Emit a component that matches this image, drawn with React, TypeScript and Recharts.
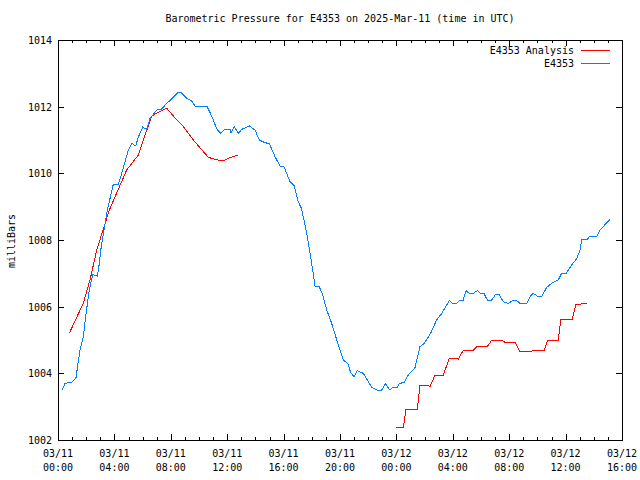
import React from 'react';
import { LineChart, Line, XAxis, YAxis, ReferenceArea, Legend } from 'recharts';

// ---------- data ----------
const chartTitle = 'Barometric Pressure for E4353 on 2025-Mar-11 (time in UTC)';
const yAxisTitle = 'milliBars';
const seriesNames = ['E4353 Analysis', 'E4353'];
const seriesColors = ['#ff0000', '#0080ff'];

const xTickHours = [0, 4, 8, 12, 16, 20, 24, 28, 32, 36, 40];
const xTickDates = ['03/11', '03/11', '03/11', '03/11', '03/11', '03/11', '03/12', '03/12', '03/12', '03/12', '03/12'];
const xTickTimes = ['00:00', '04:00', '08:00', '12:00', '16:00', '20:00', '00:00', '04:00', '08:00', '12:00', '16:00'];
const yTicks = [1002, 1004, 1006, 1008, 1010, 1012, 1014];

// hours since 03/11 00:00 UTC
const stationHours = [
  0.3, 0.5, 0.97, 1.28, 1.4, 1.56, 1.79, 1.99, 2.22, 2.46, 2.79, 2.93, 3.03, 3.5, 3.92, 4.28, 4.52, 4.99,
  5.23, 5.51, 5.7, 6.01, 6.29, 6.52, 7.0, 7.35, 7.71, 7.94, 8.53, 8.7, 9.13, 9.48, 9.72, 10.55, 10.9,
  11.26, 11.54, 11.84, 12.2, 12.27, 12.5, 12.79, 13.03, 13.57, 13.97, 14.28, 14.68, 14.99, 15.39, 15.74,
  16.03, 16.45, 16.76, 17.04, 17.28, 17.64, 17.99, 18.23, 18.53, 18.77, 19.06, 19.41, 19.77, 20.23,
  20.55, 20.76, 20.99, 21.23, 21.65, 21.94, 22.25, 22.6, 22.96, 23.24, 23.5, 23.78, 24.06, 24.2, 24.54,
  24.84, 25.32, 25.67, 25.96, 26.43, 26.86, 27.21, 27.75, 27.99, 28.28, 28.51, 28.74, 28.94, 29.17,
  29.45, 29.74, 29.98, 30.21, 30.45, 30.76, 31.06, 31.3, 31.58, 31.94, 32.3, 32.48, 32.77, 33.24, 33.48,
  33.71, 34.06, 34.3, 34.66, 35.01, 35.48, 35.72, 36.03, 36.26, 36.5, 36.79, 37.02, 37.14, 37.54, 37.68,
  38.21, 38.44, 39.15,
];
const stationPressure = [
  1003.5, 1003.7, 1003.73, 1003.87, 1004.25, 1004.7, 1005.09, 1005.8, 1006.5, 1006.96, 1006.92, 1007.29,
  1007.69, 1008.9, 1009.67, 1009.67, 1010.0, 1010.7, 1010.9, 1010.82, 1011.09, 1011.39, 1011.31, 1011.64,
  1011.9, 1011.93, 1012.1, 1012.18, 1012.43, 1012.43, 1012.25, 1012.17, 1012.02, 1012.02, 1011.72,
  1011.33, 1011.2, 1011.32, 1011.32, 1011.22, 1011.4, 1011.2, 1011.32, 1011.42, 1011.3, 1011.0, 1010.92,
  1010.89, 1010.5, 1010.22, 1010.2, 1009.75, 1009.62, 1009.15, 1008.93, 1008.2, 1007.3, 1006.62, 1006.6,
  1006.35, 1005.9, 1005.5, 1005.0, 1004.4, 1004.3, 1004.02, 1003.9, 1004.08, 1004.0, 1003.8, 1003.58,
  1003.5, 1003.5, 1003.7, 1003.5, 1003.58, 1003.58, 1003.7, 1003.72, 1003.95, 1004.17, 1004.8, 1004.89,
  1005.2, 1005.61, 1005.79, 1006.18, 1006.1, 1006.1, 1006.2, 1006.2, 1006.48, 1006.4, 1006.4, 1006.48,
  1006.4, 1006.4, 1006.2, 1006.2, 1006.38, 1006.36, 1006.15, 1006.1, 1006.2, 1006.2, 1006.1, 1006.1,
  1006.3, 1006.4, 1006.3, 1006.3, 1006.58, 1006.7, 1006.8, 1007.0, 1007.0, 1007.14, 1007.29, 1007.44,
  1007.69, 1008.01, 1008.01, 1008.11, 1008.11, 1008.3, 1008.62,
];

const analysisHours = [
  0.8, 1.79, 2.27, 2.74, 3.64, 4.87, 5.7, 6.29, 6.65, 7.0, 7.71, 8.18, 8.89, 9.6, 10.66, 11.13, 11.68,
  12.2, 12.74, 18.0, 23.97, 24.49, 24.68, 25.48, 25.67, 26.26, 26.38, 26.74, 27.33, 27.75, 28.39, 28.74,
  29.45, 29.74, 30.47, 30.76, 31.47, 31.7, 32.41, 32.72, 33.6, 33.71, 34.5, 34.73, 35.48, 35.67, 36.48,
  36.72, 37.02, 37.21, 37.49,
];
const analysisPressure: (number | null)[] = [
  1005.2, 1006.1, 1006.8, 1007.69, 1008.9, 1010.1, 1010.55, 1011.29, 1011.71, 1011.81, 1011.95, 1011.72,
  1011.4, 1011.0, 1010.48, 1010.42, 1010.37, 1010.47, 1010.55, null, 1002.38, 1002.38, 1002.91, 1002.91,
  1003.63, 1003.63, 1003.6, 1003.95, 1003.95, 1004.45, 1004.43, 1004.69, 1004.69, 1004.82, 1004.82,
  1004.99, 1004.99, 1004.93, 1004.93, 1004.67, 1004.67, 1004.7, 1004.7, 1004.99, 1004.99, 1005.63,
  1005.63, 1006.06, 1006.06, 1006.11, 1006.11,
];

// ---------- layout ----------
const W = 640;
const H = 480;
const MARGIN = { top: 40, right: 18, bottom: 0, left: 0 };
const Y_AXIS_W = 58;
const X_AXIS_H = 40;
const PLOT_TOP = MARGIN.top;
const PLOT_RIGHT = W - MARGIN.right;
const FONT = '"DejaVu Sans Mono", "Liberation Mono", monospace';
const FS = 10;

const stationData = stationHours.map((h, i) => ({ h, p: stationPressure[i] }));
const analysisData = analysisHours.map((h, i) => ({ h, p: analysisPressure[i] }));
const allHourTicks = Array.from({ length: 41 }, (_, i) => i);

const XTick = (props: any) => {
  const { x, y, payload } = props;
  const h = payload.value as number;
  const idx = xTickHours.indexOf(h);
  const major = idx >= 0;
  const len = major ? 6 : 3;
  const xr = Math.round(x) + 0.5;
  return (
    <g>
      <line x1={xr} x2={xr} y1={y} y2={y - len} stroke="#000" shapeRendering="crispEdges" />
      <line x1={xr} x2={xr} y1={PLOT_TOP} y2={PLOT_TOP + len} stroke="#000" shapeRendering="crispEdges" />
      {major && (
        <text x={x} y={y + 17} textAnchor="middle" fontFamily={FONT} fontSize={FS} fill="#000">
          {xTickDates[idx]}
        </text>
      )}
      {major && (
        <text x={x} y={y + 31} textAnchor="middle" fontFamily={FONT} fontSize={FS} fill="#000">
          {xTickTimes[idx]}
        </text>
      )}
    </g>
  );
};

const YTick = (props: any) => {
  const { x, y, payload } = props;
  const yr = Math.round(y) + 0.5;
  return (
    <g>
      <line x1={x} x2={x + 6} y1={yr} y2={yr} stroke="#000" shapeRendering="crispEdges" />
      <line x1={PLOT_RIGHT} x2={PLOT_RIGHT - 6} y1={yr} y2={yr} stroke="#000" shapeRendering="crispEdges" />
      <text x={x - 6} y={y + 4} textAnchor="end" fontFamily={FONT} fontSize={FS} fill="#000">
        {payload.value}
      </text>
    </g>
  );
};

const LegendBox = () => (
  <svg width={W} height={30} style={{ display: 'block' }}>
    {seriesNames.map((name, i) => (
      <g key={name}>
        <text x={574} y={10 + i * 13 + 4} textAnchor="end" fontFamily={FONT} fontSize={FS} fill="#000">
          {name}
        </text>
        <line x1={581} x2={610} y1={10.5 + i * 13} y2={10.5 + i * 13} stroke={seriesColors[i]} shapeRendering="crispEdges" />
      </g>
    ))}
  </svg>
);

export default function App() {
  return (
    <div style={{ position: 'absolute', left: 0, top: 0, width: W, height: H, background: '#fff' }}>
      <div
        style={{
          position: 'absolute',
          left: 0,
          top: 12,
          width: 680,
          textAlign: 'center',
          fontFamily: FONT,
          fontSize: FS,
          lineHeight: '14px',
          color: '#000',
          whiteSpace: 'pre',
        }}
      >
        {chartTitle}
      </div>
      <LineChart width={W} height={H} margin={MARGIN}>
        <XAxis
          dataKey="h"
          type="number"
          domain={[0, 40]}
          ticks={allHourTicks}
          interval={0}
          height={X_AXIS_H}
          axisLine={false}
          tickLine={false}
          tickSize={0}
          tickMargin={0}
          tick={<XTick />}
          allowDataOverflow
        />
        <YAxis
          type="number"
          domain={[1002, 1014]}
          ticks={yTicks}
          interval={0}
          width={Y_AXIS_W}
          axisLine={false}
          tickLine={false}
          tickSize={0}
          tickMargin={0}
          tick={<YTick />}
          allowDataOverflow
          label={() => (
            <text
              x={11}
              y={241}
              transform="rotate(-90 11 241)"
              textAnchor="middle"
              dominantBaseline="central"
              fontFamily={FONT}
              fontSize={FS}
              fill="#000"
            >
              {yAxisTitle}
            </text>
          )}
        />
        <ReferenceArea
          x1={0}
          x2={40}
          y1={1002}
          y2={1014}
          fill="none"
          fillOpacity={0}
          stroke="#000"
          strokeOpacity={1}
          shapeRendering="crispEdges"
        />
        <Legend
          layout="horizontal"
          verticalAlign="middle"
          align="center"
          wrapperStyle={{ top: 40, left: 0, width: W, height: 30 }}
          content={() => <LegendBox />}
        />
        <Line
          data={analysisData}
          dataKey="p"
          name={seriesNames[0]}
          stroke={seriesColors[0]}
          strokeWidth={1}
          dot={false}
          activeDot={false}
          type="linear"
          shapeRendering="crispEdges"
          isAnimationActive={false}
        />
        <Line
          data={stationData}
          dataKey="p"
          name={seriesNames[1]}
          stroke={seriesColors[1]}
          strokeWidth={1}
          dot={false}
          activeDot={false}
          type="linear"
          shapeRendering="crispEdges"
          isAnimationActive={false}
        />
      </LineChart>
    </div>
  );
}
